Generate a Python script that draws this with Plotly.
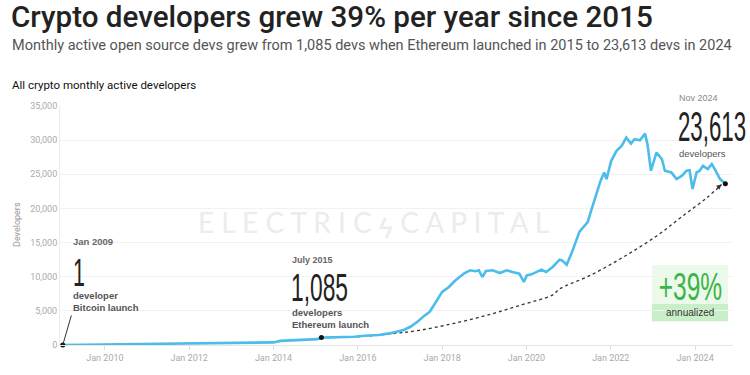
import plotly.graph_objects as go
import pandas as pd

# ---------------- data ----------------
dates = [
    "2009-01-01", "2009-07-01", "2010-01-01", "2010-07-01", "2011-01-01", "2011-07-01",
    "2012-01-01", "2012-07-01", "2013-01-01", "2013-07-01", "2013-10-01", "2014-01-01",
    "2014-03-01", "2014-06-01", "2014-09-01", "2014-12-01", "2015-01-15", "2015-02-20",
    "2015-06-01", "2015-09-01", "2015-12-01", "2016-03-01", "2016-07-01", "2016-10-01",
    "2016-12-01", "2017-02-01", "2017-04-01", "2017-06-01", "2017-08-01", "2017-09-15",
    "2017-11-01", "2018-01-01", "2018-03-01", "2018-04-15", "2018-06-01", "2018-07-15",
    "2018-09-01", "2018-10-15", "2018-11-15", "2018-12-15", "2019-01-15", "2019-03-15",
    "2019-05-15", "2019-07-15", "2019-09-01", "2019-11-01", "2019-12-10", "2020-01-05",
    "2020-02-15", "2020-04-01", "2020-05-10", "2020-06-20", "2020-08-15", "2020-10-15",
    "2020-11-05", "2020-12-15", "2021-01-30", "2021-04-05", "2021-05-15", "2021-06-15",
    "2021-07-15", "2021-08-01", "2021-09-01", "2021-10-05", "2021-11-05", "2021-11-25",
    "2022-01-05", "2022-02-20", "2022-04-05", "2022-05-15", "2022-06-25", "2022-07-25",
    "2022-09-10", "2022-10-25", "2022-11-15", "2022-12-15", "2023-02-01", "2023-03-20",
    "2023-04-15", "2023-06-10", "2023-07-25", "2023-09-10", "2023-10-20", "2023-11-15",
    "2023-12-10", "2024-01-15", "2024-02-10", "2024-03-10", "2024-04-20", "2024-05-25",
    "2024-06-20", "2024-08-05", "2024-09-20",
]
developers = [
    1, 30, 60, 90, 130, 160,
    190, 220, 260, 320, 300, 380,
    600, 680, 760, 900, 860, 1085,
    1100, 1150, 1200, 1350, 1460, 1700,
    1940, 2200, 2670, 3400, 4300, 4860,
    6120, 7780, 8500, 9300, 9960, 10540,
    10935, 10800, 10935, 9960, 10830, 10935,
    10540, 10935, 10690, 10450, 9230, 10200,
    10350, 10690, 11030, 10690, 11420, 12490,
    12390, 11760, 13600, 16600, 17300, 18000,
    19680, 20660, 22120, 24060, 25270, 24300,
    26970, 28430, 29160, 30370, 29500, 30140,
    29990, 30950, 29410, 25520, 28180, 27220,
    25520, 25270, 24300, 24790, 25520, 25600,
    22850, 25270, 25520, 26240, 25760, 26490,
    25760, 24300, 23613,
]

# dotted "+39% annualized" guide curve
trend_dates = [
    "2015-02-20", "2015-12-20", "2016-10-30", "2017-06-20", "2018-04-01", "2019-01-20",
    "2019-11-02", "2020-08-17", "2020-10-16", "2021-07-02", "2022-04-15", "2023-02-03",
    "2023-09-16", "2024-04-12", "2024-08-18",
]
trend_values = [
    1085, 1193, 1673, 2153, 3128, 4336,
    5791, 7348, 8221, 10156, 12833, 15976,
    18886, 21563, 23498,
]

y_ticks = [0, 5000, 10000, 15000, 20000, 25000, 30000, 35000]

btc_date, btc_devs = "2009-01-01", 1
eth_date, eth_devs = "2015-02-20", 1085
end_date, end_devs = "2024-09-20", 23613

# ---------------- figure ----------------
L, R, T, B = 60, 733, 106, 345
W, H = 750, 375


def px(x):
    return (x - L) / (R - L)


def py(y):
    return (B - y) / (B - T)


FONT = "Liberation Sans"
UI = "Roboto"

fig = go.Figure()

fig.add_trace(go.Scatter(
    x=trend_dates, y=trend_values, mode="lines", line_shape="spline",
    line=dict(color="#333333", width=1.3, dash="dot"),
    hoverinfo="skip", showlegend=False))

fig.add_trace(go.Scatter(
    x=dates, y=developers, mode="lines",
    line=dict(color="#4cbdea", width=2.6),
    showlegend=False))

fig.add_trace(go.Scatter(
    x=[btc_date, eth_date, end_date], y=[btc_devs, eth_devs, end_devs],
    mode="markers", marker=dict(color="#111111", size=5),
    cliponaxis=False, showlegend=False))

ann = []


def txt(text, x, y, size, color="#222", xanchor="left", family=FONT, weight=None,
        yanchor="middle", angle=0, align="left"):
    f = dict(size=size, color=color, family=family)
    if weight:
        f["weight"] = weight
    ann.append(dict(text=text, x=px(x), y=py(y), xref="paper", yref="paper",
                    xanchor=xanchor, yanchor=yanchor, showarrow=False, font=f,
                    textangle=angle, align=align))


txt("Crypto developers grew 39% per year since 2015", 9, 17, 29.6, "#222222", family=UI, weight=500)
txt("Monthly active open source devs grew from 1,085 devs when Ethereum launched in 2015 to 23,613 devs in 2024",
    10, 45, 14.5, "#555555", family=UI)
txt("All crypto monthly active developers", 10, 85, 11.5, "#111111", family=UI)
txt("Developers", 17, 225, 9, "#999999", xanchor="center", family=UI, angle=-90)

# watermark
txt("E L E C T R I C ϟ C A P I T A L", 373, 222, 28, "#ececec", xanchor="center", family="Lato")

# Bitcoin launch
txt("Jan 2009", 71, 242, 9.5, "#666666", weight=700)
txt("1", 71, 272, 39, "#222222")
txt("developer<br>Bitcoin launch", 71, 301.5, 9.5, "#555555", weight=700)

# Ethereum launch
txt("July 2015", 290, 260, 9, "#666666", weight=700)
txt("1,085", 289, 288, 38, "#222222")
txt("developers<br>Ethereum launch", 290, 318, 9.5, "#555555", weight=700)

# Latest
txt("Nov 2024", 677, 98, 9, "#888888")
txt("23,613", 676, 126, 42, "#222222")
txt("developers", 677, 153, 9.5, "#555555")

# growth badge
txt("+39%", 690, 286, 39, "#3db449", xanchor="center", align="center")
txt("annualized", 690, 312, 10, "#333333", xanchor="center", align="center")

# pointer line to Jan 2009 point
ann.append(dict(x=btc_date, y=btc_devs, xref="x", yref="y", text="", showarrow=True,
                ax=9, ay=-31, arrowhead=0, arrowwidth=1, arrowcolor="#333333"))
# arrow head at end of dotted guide
ann.append(dict(x=trend_dates[-1], y=trend_values[-1], xref="x", yref="y", text="", showarrow=True,
                ax=-6, ay=5, arrowhead=2, arrowsize=1, arrowwidth=1, arrowcolor="#333333"))

shapes = [
    dict(type="rect", xref="paper", yref="paper", x0=px(652), x1=px(728), y0=py(322), y1=py(265),
         fillcolor="#ecfaec", line=dict(width=0), layer="below"),
    dict(type="rect", xref="paper", yref="paper", x0=px(652), x1=px(728), y0=py(321), y1=py(304),
         fillcolor="#c9efc9", line=dict(width=0), layer="below"),
]

fig.update_layout(
    width=W, height=H,
    margin=dict(l=L, r=W - R, t=T, b=H - B, autoexpand=False),
    paper_bgcolor="white", plot_bgcolor="white",
    font=dict(family=FONT, color="#222"),
    annotations=ann, shapes=shapes,
    showlegend=False,
)

fig.update_xaxes(
    type="date", range=["2008-12-08", "2024-11-25"], automargin=False,
    tick0="2010-01-01", dtick="M24", tickformat="%b %Y",
    showgrid=False, showline=True, linecolor="#e6e6e6", linewidth=1,
    ticks="outside", ticklen=4, tickcolor="#dddddd",
    tickfont=dict(size=9, color="#aaaaaa", family=UI),
    zeroline=False,
)
fig.update_yaxes(
    range=[0, 35000], tickvals=y_ticks, tickformat=",", automargin=False,
    showgrid=True, gridcolor="#f2f2f2", gridwidth=1,
    showline=True, linecolor="#ececec", zeroline=False,
    tickfont=dict(size=9, color="#aaaaaa", family=UI),
    ticks="",
)

# page without body margin; condensed look for the large display numbers
post = """
document.body.style.margin = '0px';
document.body.style.padding = '0px';
var gd = document.getElementById('{plot_id}');
function squeeze(){
  var cfg = {'1':[0.55,'left center'], '1,085':[0.6,'left center'],
             '23,613':[0.53,'left center'], '+39%':[0.63,'center']};
  gd.querySelectorAll('.annotation-text').forEach(function(t){
    var c = cfg[t.textContent];
    if(c){
      t.style.transformBox = 'fill-box';
      t.style.transformOrigin = c[1];
      t.style.transform = 'scaleX(' + c[0] + ')';
    }
  });
}
squeeze();
if (gd.on) { gd.on('plotly_afterplot', squeeze); }
"""

fig.write_html("out.html", post_script=post, config={"displayModeBar": False})
